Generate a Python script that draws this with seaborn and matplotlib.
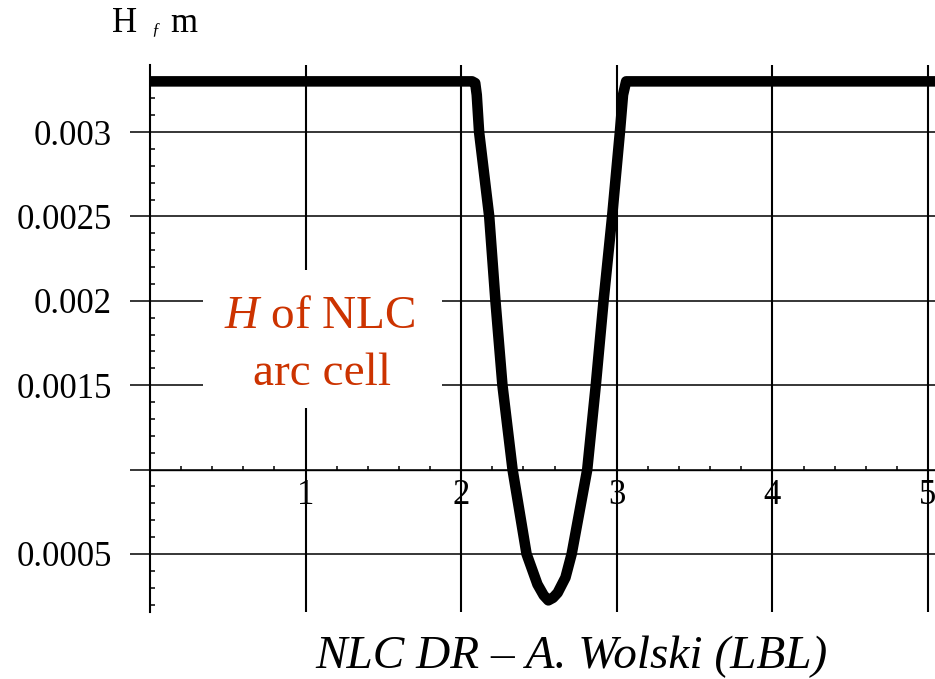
import matplotlib
matplotlib.use("Agg")
import matplotlib.pyplot as plt
import matplotlib.patches as mpatches
from matplotlib.ticker import FixedLocator, FixedFormatter, MultipleLocator
import seaborn as sns
import pandas as pd

# ---- data ----
s_pos = [0.0, 2.07, 2.09, 2.10, 2.115, 2.18, 2.22, 2.265, 2.33, 2.42, 2.49, 2.53,
         2.56, 2.59, 2.62, 2.67, 2.71, 2.81, 2.865, 2.915, 2.97, 3.02, 3.04, 3.06, 5.05]
h_val = [0.0033, 0.0033, 0.00329, 0.00322, 0.0030, 0.0025, 0.0020, 0.0015, 0.0010,
         0.0005, 0.00032, 0.000255, 0.000225, 0.00024, 0.00027, 0.00036, 0.0005,
         0.0010, 0.0015, 0.0020, 0.0025, 0.0030, 0.00322, 0.0033, 0.0033]
x_ticks = [1, 2, 3, 4, 5]
x_tick_labels = ["1", "2", "3", "4", "5"]
y_ticks = [0.0005, 0.0010, 0.0015, 0.0020, 0.0025, 0.0030]
y_tick_labels = ["0.0005", "", "0.0015", "0.002", "0.0025", "0.003"]

df = pd.DataFrame({"s": s_pos, "H": h_val})

sns.set_style("white")
plt.rcParams["font.family"] = ["Liberation Serif", "DejaVu Serif"]
plt.rcParams["text.color"] = "black"
plt.rcParams["mathtext.fontset"] = "custom"
plt.rcParams["mathtext.rm"] = "Liberation Serif"
plt.rcParams["mathtext.it"] = "Liberation Serif:italic"

W, H = 935, 679
fig = plt.figure(figsize=(W / 100, H / 100), dpi=100)
fig.patch.set_facecolor("white")

def px(x, y):
    return (x / W, 1 - y / H)

ax = fig.add_axes([150 / W, (H - 612) / H, (W - 150) / W, (612 - 65) / H])
ax.set_facecolor("white")

sns.lineplot(data=df, x="s", y="H", ax=ax, color="black", lw=7.6, sort=False,
             solid_joinstyle="round", solid_capstyle="butt", zorder=5)

ax.set_xlim(0, 5.045)
ax.set_ylim(0.000156, 0.003397)

# spines: Mathematica-like crossing axes
for side in ["top", "right"]:
    ax.spines[side].set_visible(False)
ax.spines["left"].set_linewidth(1.5)
ax.spines["left"].set_color("black")
ax.spines["bottom"].set_position(("data", 0.001))
ax.spines["bottom"].set_linewidth(1.0)
ax.spines["bottom"].set_color("black")

ax.xaxis.set_major_locator(FixedLocator(x_ticks))
ax.xaxis.set_major_formatter(FixedFormatter(x_tick_labels))
ax.yaxis.set_major_locator(FixedLocator(y_ticks))
ax.yaxis.set_major_formatter(FixedFormatter(y_tick_labels))
ax.xaxis.set_minor_locator(MultipleLocator(0.2))
ax.yaxis.set_minor_locator(MultipleLocator(0.0001))

ax.tick_params(which="both", bottom=True, left=True, top=False, right=False)
ax.tick_params(axis="x", which="major", length=0, pad=7, labelsize=25,
               labelcolor="black")
ax.tick_params(axis="x", which="minor", direction="in", length=3, width=1.1,
               color="black")
ax.tick_params(axis="y", which="major", direction="out", length=14.4, width=1.1,
               color="black", pad=13, labelsize=25, labelcolor="black")
ax.tick_params(axis="y", which="minor", direction="in", length=3.8, width=1.1,
               color="black")

ax.grid(False)
ax.xaxis.grid(True, which="major", color="black", lw=1.5)
ax.yaxis.grid(True, which="major", color="black", lw=1.1)
ax.set_xlabel("")
ax.set_ylabel("")

# white box behind the annotation
rect = mpatches.Rectangle(px(203, 408), 239 / W, 138 / H, transform=fig.transFigure,
                          facecolor="white", edgecolor="none", zorder=3, clip_on=False)
ax.add_patch(rect)
red = "#CC3300"
fig.text(*px(320, 328), r"$H$ of NLC", color=red, fontsize=34, ha="center",
         va="baseline", zorder=6)
fig.text(*px(322, 385), "arc cell", color=red, fontsize=34, ha="center",
         va="baseline", zorder=6)

# y axis label
fig.text(*px(112, 32), "H", fontsize=25, color="black", ha="left", va="baseline")
fig.text(*px(151, 33), "ƒ", fontsize=12, style="italic", color="black",
         ha="left", va="baseline")
fig.text(*px(170, 32), "m", fontsize=25, color="black", ha="left", va="baseline")

# credit line
fig.text(*px(571, 668), "NLC DR – A. Wolski (LBL)", fontsize=34, style="italic",
         color="black", ha="center", va="baseline")

fig.savefig("out.png", dpi=100, facecolor="white")
